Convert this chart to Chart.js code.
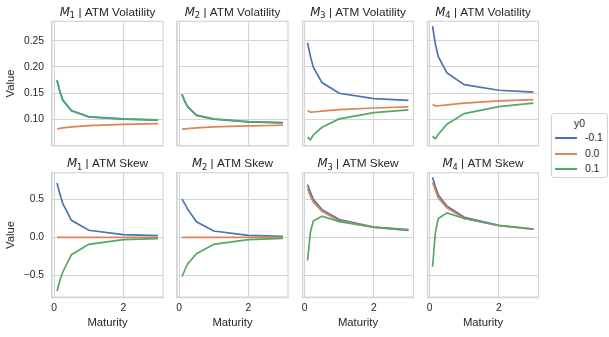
<!DOCTYPE html>
<html>
<head>
<meta charset="utf-8">
<script src="https://cdn.jsdelivr.net/npm/chart.js@4.4.1/dist/chart.umd.min.js"></script>
<style>
  html, body { margin: 0; padding: 0; background: #fff; }
  #wrap { position: relative; width: 609px; height: 337px; overflow: hidden; }
  #wrap canvas { position: absolute; }
  #legend {
    position: absolute; left: 551px; top: 113px; width: 55px; height: 63px;
    border: 1px solid #d4d4d4; border-radius: 3px; background: #fff;
    font: 10.3px "Liberation Sans", Arial, sans-serif; color: #262626;
  }
  #legend .ttl { position: absolute; left: 0; width: 100%; top: 4px; text-align: center; color: #262626; }
  #legend .row { position: absolute; left: 0; height: 12px; line-height: 12px; }
  #legend .swatch { position: absolute; left: 3px; top: 5px; width: 22px; height: 2px; }
  #legend .lbl { position: absolute; left: 33px; top: 0; white-space: nowrap; color: #262626; }
</style>
</head>
<body>
<div id="wrap">
  <div id="legend"><div class="ttl">y0</div></div>
</div>
<script>
// maturities (years) shared by every panel
const maturities = [1 / 12, 2 / 12, 3 / 12, 0.5, 1, 2, 3];
const groups = ["-0.1", "0.0", "0.1"];
const colors = ["#4c72b0", "#dd8452", "#55a868"];
const models = ["1", "2", "3", "4"];
const metrics = ["ATM Volatility", "ATM Skew"];

// ATM volatility, y0 = -0.1 / 0.0 / 0.1
const volM1Neg = [0.174, 0.152, 0.136, 0.116, 0.1043, 0.1002, 0.0984];
const volM1Zero = [0.0815, 0.0825, 0.0834, 0.0853, 0.088, 0.0904, 0.0917];
const volM1Pos = [0.175, 0.153, 0.137, 0.1166, 0.105, 0.1006, 0.0987];

const volM2Neg = [0.147, 0.1333, 0.1233, 0.1073, 0.1, 0.0951, 0.0932];
const volM2Zero = [0.081, 0.0815, 0.082, 0.0834, 0.0853, 0.0873, 0.0885];
const volM2Pos = [0.1478, 0.134, 0.124, 0.108, 0.1006, 0.0955, 0.0936];

const volM3Neg = [0.246, 0.22, 0.1995, 0.17, 0.1497, 0.1395, 0.136];
const volM3Zero = [0.1166, 0.1135, 0.1138, 0.1155, 0.1185, 0.1215, 0.1236];
const volM3Pos = [0.0656, 0.0611, 0.07, 0.0847, 0.1006, 0.1127, 0.1178];

const volM4Neg = [0.2777, 0.243, 0.2196, 0.1886, 0.166, 0.1554, 0.1516];
const volM4Zero = [0.128, 0.1255, 0.1258, 0.1275, 0.1306, 0.135, 0.1376];
const volM4Pos = [0.0675, 0.063, 0.0715, 0.0904, 0.1108, 0.124, 0.1306];

// ATM skew, y0 = -0.1 / 0.0 / 0.1
const skewM1Neg = [0.721, 0.57, 0.447, 0.226, 0.093, 0.035, 0.022];
const skewM1Zero = [0, 0, 0, 0, 0, 0, 0];
const skewM1Pos = [-0.712, -0.57, -0.46, -0.23, -0.093, -0.031, -0.018];

const skewM2Neg = [0.507, 0.44, 0.37, 0.205, 0.084, 0.027, 0.013];
const skewM2Zero = [0, 0, 0, 0, 0, 0, 0];
const skewM2Pos = [-0.52, -0.43, -0.35, -0.218, -0.093, -0.031, -0.013];

const skewM3Neg = [0.699, 0.597, 0.504, 0.367, 0.235, 0.137, 0.102];
const skewM3Zero = [0.646, 0.544, 0.469, 0.345, 0.217, 0.133, 0.093];
const skewM3Pos = [-0.307, 0.071, 0.217, 0.279, 0.208, 0.135, 0.093];

const skewM4Neg = [0.796, 0.67, 0.56, 0.413, 0.265, 0.16, 0.11];
const skewM4Zero = [0.726, 0.62, 0.52, 0.39, 0.25, 0.155, 0.108];
const skewM4Pos = [-0.39, 0.07, 0.25, 0.324, 0.25, 0.157, 0.107];

const xTicks = [0, 2];
const volTicks = [0.1, 0.15, 0.2, 0.25];
const skewTicks = [-0.5, 0, 0.5];

const panels = [
  [[volM1Neg, volM1Zero, volM1Pos], [volM2Neg, volM2Zero, volM2Pos],
   [volM3Neg, volM3Zero, volM3Pos], [volM4Neg, volM4Zero, volM4Pos]],
  [[skewM1Neg, skewM1Zero, skewM1Pos], [skewM2Neg, skewM2Zero, skewM2Pos],
   [skewM3Neg, skewM3Zero, skewM3Pos], [skewM4Neg, skewM4Zero, skewM4Pos]]
];

const family = '"Liberation Sans", Arial, sans-serif';
const textColor = "#262626";
const gridColor = "#d4d4d4";

// layout of the facet grid
const colLeft = [52, 177, 302.5, 427.5];
const rowTop = [21.3, 172.7];
const panelW = 111;
const panelH = 124.4;
const yRanges = [[0.0495, 0.287], [-0.793, 0.857]];
const xRange = [-0.0625, 3.1458];

const panelTitle = {
  id: "panelTitle",
  afterDraw(chart, args, opts) {
    const { ctx, chartArea: a } = chart;
    ctx.save();
    ctx.strokeStyle = gridColor;
    ctx.lineWidth = 1.2;
    ctx.strokeRect(a.left, a.top, a.right - a.left, a.bottom - a.top);

    const fM = "italic 11.8px 'DejaVu Sans'";
    const fSub = "8.3px 'DejaVu Sans'";
    const fRest = "11.8px " + family;
    const rest = " | " + opts.label;
    ctx.font = fM;
    const wM = ctx.measureText("M").width;
    ctx.font = fSub;
    const wS = ctx.measureText(opts.index).width;
    ctx.font = fRest;
    const wR = ctx.measureText(rest).width;
    let x = (a.left + a.right) / 2 - (wM + wS + wR) / 2;
    const y = a.top - 5.5;
    ctx.fillStyle = textColor;
    ctx.textAlign = "left";
    ctx.textBaseline = "alphabetic";
    ctx.font = fM;
    ctx.fillText("M", x, y);
    x += wM;
    ctx.font = fSub;
    ctx.fillText(opts.index, x, y + 2.3);
    x += wS;
    ctx.font = fRest;
    ctx.fillText(rest, x, y);
    ctx.restore();
  }
};

function toPoints(values) {
  return values.map((v, i) => ({ x: maturities[i], y: v }));
}

function fmtTick(row, v) {
  const s = row === 0 ? v.toFixed(2) : v.toFixed(1);
  return s.replace("-", "\u2212");
}

// fixed axis size, and no extra room reserved for overhanging tick labels
function fixSize(scale, w, h) {
  if (w !== null) scale.width = w;
  if (h !== null) scale.height = h;
  scale.paddingTop = 0;
  scale.paddingBottom = 0;
  scale.paddingLeft = 0;
  scale.paddingRight = 0;
}

function makePanel(row, col) {
  const wrap = document.getElementById("wrap");
  const canvas = document.createElement("canvas");

  const yAxisW = col === 0 ? 52 : 0;
  const left = col === 0 ? 0 : Math.floor(colLeft[col]) - 3;
  const padLeft = colLeft[col] - left - yAxisW;
  const width = Math.ceil(colLeft[col] + panelW + 3) - left;
  const padRight = width - (colLeft[col] - left) - panelW;

  const top = row === 0 ? 0 : 150;
  const padTop = rowTop[row] - top;
  const xAxisH = row === 0 ? 0 : 337 - (rowTop[row] + panelH);
  const height = row === 0 ? Math.ceil(rowTop[0] + panelH + 3) : 337 - top;
  const padBottom = height - padTop - panelH - xAxisH;

  canvas.width = width;
  canvas.height = height;
  canvas.style.left = left + "px";
  canvas.style.top = top + "px";
  canvas.style.width = width + "px";
  canvas.style.height = height + "px";
  wrap.appendChild(canvas);

  const series = panels[row][col];
  const tickFont = { family: family, size: 10.3 };
  const labelFont = { family: family, size: 11.3 };

  new Chart(canvas, {
    type: "line",
    data: {
      datasets: series.map((vals, k) => ({
        label: groups[k],
        data: toPoints(vals),
        borderColor: colors[k],
        backgroundColor: colors[k],
        borderWidth: 1.7,
        pointRadius: 0,
        tension: 0,
        order: 2 - k
      }))
    },
    options: {
      responsive: false,
      animation: false,
      devicePixelRatio: 1,
      layout: { padding: { left: padLeft, right: padRight, top: padTop, bottom: padBottom } },
      plugins: {
        legend: { display: false },
        tooltip: { enabled: false },
        panelTitle: { index: models[col], label: metrics[row] }
      },
      scales: {
        x: {
          type: "linear",
          min: xRange[0],
          max: xRange[1],
          afterBuildTicks: (s) => { s.ticks = xTicks.map((v) => ({ value: v })); },
          afterFit: (s) => fixSize(s, null, xAxisH),
          grid: { color: gridColor, lineWidth: 1, drawTicks: false, tickLength: 0 },
          border: { color: gridColor, width: 1.2 },
          ticks: {
            display: row === 1,
            padding: 5,
            color: textColor,
            font: tickFont,
            maxRotation: 0,
            callback: (v) => String(v)
          },
          title: {
            display: row === 1,
            text: "Maturity",
            color: textColor,
            font: labelFont,
            padding: { top: 0, bottom: 7 }
          }
        },
        y: {
          type: "linear",
          min: yRanges[row][0],
          max: yRanges[row][1],
          afterBuildTicks: (s) => {
            s.ticks = (row === 0 ? volTicks : skewTicks).map((v) => ({ value: v }));
          },
          afterFit: (s) => fixSize(s, yAxisW, null),
          grid: { color: gridColor, lineWidth: 1, drawTicks: false, tickLength: 0 },
          border: { color: gridColor, width: 1.2 },
          ticks: {
            display: col === 0,
            padding: 8,
            color: textColor,
            font: tickFont,
            callback: (v) => fmtTick(row, v)
          },
          title: {
            display: col === 0,
            text: "Value",
            color: textColor,
            font: labelFont,
            padding: { top: 4.5, bottom: 0 }
          }
        }
      }
    },
    plugins: [panelTitle]
  });
}

for (let r = 0; r < 2; r++) {
  for (let c = 0; c < 4; c++) {
    makePanel(r, c);
  }
}

// legend box, built from the same groups and colours
const legend = document.getElementById("legend");
const rowTops = [18, 34, 49];
groups.forEach((g, k) => {
  const item = document.createElement("div");
  item.className = "row";
  item.style.top = rowTops[k] + "px";
  item.innerHTML = '<span class="swatch"></span><span class="lbl"></span>';
  item.querySelector(".swatch").style.background = colors[k];
  item.querySelector(".lbl").textContent = g;
  legend.appendChild(item);
});
</script>
</body>
</html>
